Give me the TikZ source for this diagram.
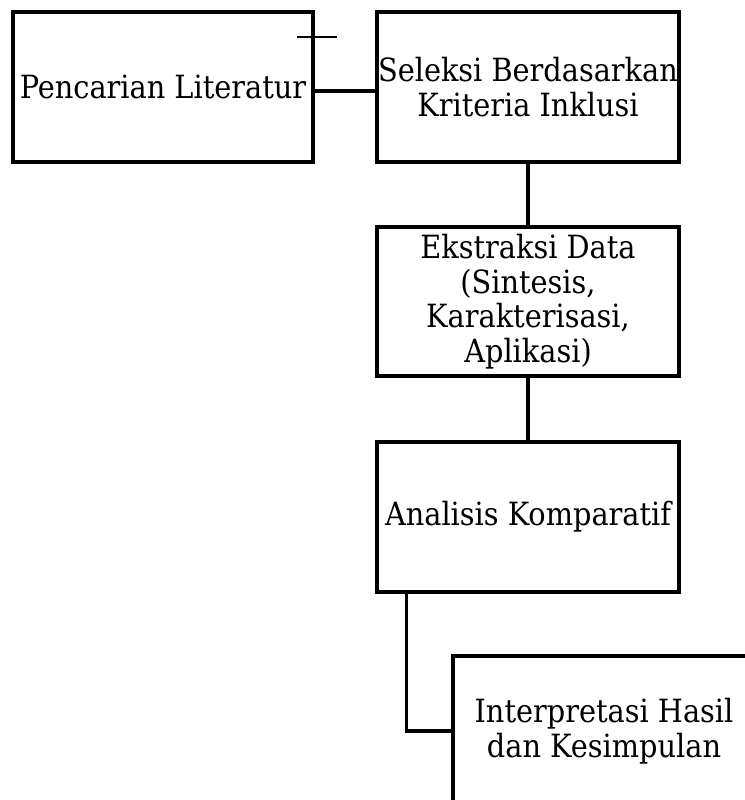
\documentclass[tikz,border=0pt]{standalone}
\usepackage{fontspec}
\setmainfont{DejaVu Serif Condensed}
\usetikzlibrary{calc}

\begin{document}
\begin{tikzpicture}[x=0.75pt, y=-0.75pt,
    stage/.style={rectangle, draw, line width=2.5pt, align=center, inner sep=0pt,
      minimum width=226.5pt, minimum height=112.5pt,
      font=\fontsize{24}{26}\selectfont},
    link/.style={line width=2.5pt}]
      \useasboundingbox (0,0) rectangle (744,800);

      \node[stage, minimum width=225pt] (lit) at (163,87) {Pencarian Literatur};
      \node[stage] (sel) at (528,87) {Seleksi Berdasarkan\\Kriteria Inklusi};
      \node[stage, minimum height=111.75pt] (eks) at (528,301.5) {Ekstraksi Data\\(Sintesis,\\Karakterisasi,\\Aplikasi)};
      \node[stage] (ana) at (528,517) {Analisis Komparatif};
      \node[stage] (hsl) at (604,731) {Interpretasi Hasil\\dan Kesimpulan};

      \coordinate (tickL) at (297,37);
      \coordinate (tickR) at (337,37);

      \draw[link] ([yshift=-3pt]lit.east) -- ([yshift=-3pt]sel.west);
      \draw[link] (sel) -- (eks);
      \draw[link] (eks) -- (ana);
      \draw[link] ($(ana.south west)+(31,0)$) |- (hsl.west);
      \draw[line width=1.2pt] (tickL) -- (tickR);
    \end{tikzpicture}
\end{document}
